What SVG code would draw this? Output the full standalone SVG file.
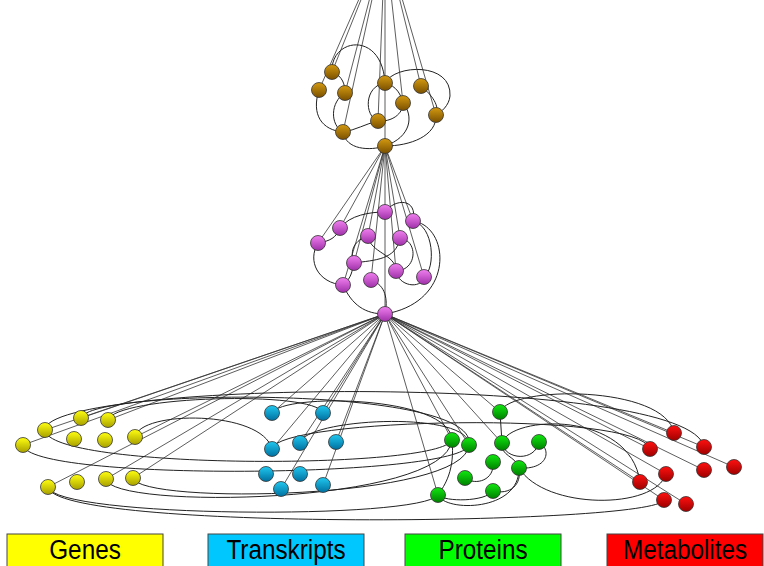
<svg xmlns="http://www.w3.org/2000/svg" width="764" height="566" viewBox="0 0 764 566">
<defs>
<linearGradient id="gGold" x1="0" y1="0" x2="0" y2="1"><stop offset="0" stop-color="#d49a10"/><stop offset="1" stop-color="#7a5000"/></linearGradient>
<linearGradient id="gMag" x1="0" y1="0" x2="0" y2="1"><stop offset="0" stop-color="#f080f0"/><stop offset="1" stop-color="#a030a8"/></linearGradient>
<linearGradient id="gYel" x1="0" y1="0" x2="0" y2="1"><stop offset="0" stop-color="#ffff10"/><stop offset="1" stop-color="#a8a000"/></linearGradient>
<linearGradient id="gBlu" x1="0" y1="0" x2="0" y2="1"><stop offset="0" stop-color="#20c8f0"/><stop offset="1" stop-color="#0070a0"/></linearGradient>
<linearGradient id="gGrn" x1="0" y1="0" x2="0" y2="1"><stop offset="0" stop-color="#10e810"/><stop offset="1" stop-color="#008000"/></linearGradient>
<linearGradient id="gRed" x1="0" y1="0" x2="0" y2="1"><stop offset="0" stop-color="#ff1010"/><stop offset="1" stop-color="#a00000"/></linearGradient>
</defs>
<style>
.e{fill:none;stroke:#222;stroke-width:1}
.h{fill:none;stroke:#333;stroke-width:0.8}
circle{stroke:#333;stroke-width:0.8}
.go{fill:url(#gGold)}.ma{fill:url(#gMag)}.ye{fill:url(#gYel)}.bl{fill:url(#gBlu)}.gr{fill:url(#gGrn)}.re{fill:url(#gRed)}
.lg{stroke:#444;stroke-width:1}
.lt{font-family:"Liberation Sans",Arial,sans-serif;font-size:27px;fill:#000;text-anchor:middle}
</style>
<g id="connectors">
<path class="h" d="M385,-60L332,72M385,-60L319,90M385,-60L345,93M385,-60L385,146M385,-60L403,103M385,-60L421,86M385,-60L436,115M385,-60L378,121M385,-60L343,132"/>
<path class="e" d="M332,72C330,38 382,30 385,83"/>
<path class="e" d="M319,90C311,115 322,130 343,132"/>
<path class="e" d="M345,93C330,102 330,125 343,132"/>
<path class="e" d="M332,72C343,76 345,85 345,93"/>
<path class="e" d="M343,132C346,150 370,151 385,146"/>
<path class="e" d="M343,132C356,130 365,124 378,121"/>
<path class="e" d="M385,83C364,86 364,116 378,121"/>
<path class="e" d="M385,83C397,86 401,95 403,103"/>
<path class="e" d="M378,121C392,122 403,114 403,103"/>
<path class="e" d="M385,83C395,64 452,62 450,96C449,106 441,112 436,115"/>
<path class="e" d="M421,86C432,95 440,106 436,115"/>
<path class="e" d="M436,115C437,136 410,146 385,146"/>
<path class="e" d="M403,103C414,116 411,137 385,146"/>
<path class="h" d="M385,146L385,314M385,146L413,221M385,146L340,228M385,146L318,243M385,146L368,236M385,146L400,238M385,146L354,263M385,146L396,271M385,146L424,277M385,146L343,285M385,146L371,280"/>
<path class="e" d="M340,228C350,215 370,212 385,212"/>
<path class="e" d="M385,212C395,198 418,198 413,221"/>
<path class="e" d="M318,243C330,241 336,238 340,228"/>
<path class="e" d="M318,243C307,261 318,283 343,285"/>
<path class="e" d="M343,285C352,305 365,314 385,314"/>
<path class="e" d="M343,285C352,278 352,270 354,263"/>
<path class="e" d="M354,263C375,260 396,260 400,238"/>
<path class="e" d="M368,236C370,253 396,254 396,271"/>
<path class="e" d="M354,263C349,250 355,240 368,236"/>
<path class="e" d="M396,271C398,286 421,290 424,277"/>
<path class="e" d="M413,221C434,226 436,268 424,277"/>
<path class="e" d="M413,221C450,226 456,302 385,314"/>
<path class="e" d="M400,238C418,240 418,270 396,271"/>
<path class="e" d="M371,280C386,285 388,300 385,314"/>
<path class="h" d="M385,314L23,445M385,314L45,430M385,314L81,418M385,314L108,420M385,314L135,437M385,314L48,487M385,314L106,479M385,314L133,478"/>
<path class="h" d="M385,314L272,413M385,314L323,413M385,314L272,449M385,314L300,443M385,314L336,442M385,314L281,489M385,314L323,485"/>
<path class="h" d="M385,314L500,412M385,314L452,440M385,314L469,445M385,314L502,443M385,314L438,495"/>
<path class="h" d="M385,314L674,433M385,314L704,447M385,314L650,449M385,314L734,467M385,314L704,470M385,314L666,474M385,314L640,482M385,314L664,500M385,314L686,504"/>
<path class="e" d="M45,430C45,380 690,372 704,447"/>
<path class="e" d="M500,412C510,385 665,385 674,433"/>
<path class="e" d="M81,418C90,388 480,385 469,445"/>
<path class="e" d="M108,420C115,396 315,390 323,413"/>
<path class="e" d="M272,413C282,393 450,395 452,440"/>
<path class="e" d="M135,437C140,410 262,410 272,449"/>
<path class="e" d="M272,449C276,418 640,410 650,449"/>
<path class="e" d="M300,443C305,418 470,410 469,445"/>
<path class="e" d="M502,443C510,415 630,410 640,482"/>
<path class="e" d="M45,430C48,470 440,470 452,440"/>
<path class="e" d="M23,445C28,482 460,478 469,445"/>
<path class="e" d="M48,487C55,532 655,525 664,500"/>
<path class="e" d="M48,487C55,518 420,520 438,495"/>
<path class="e" d="M106,479C110,510 445,505 452,440"/>
<path class="e" d="M133,478C140,505 465,500 469,445"/>
<path class="e" d="M519,468C545,510 655,510 666,474"/>
<path class="e" d="M500,412L502,443"/>
<path class="e" d="M452,440C455,470 445,485 438,495"/>
<path class="e" d="M502,443C505,460 535,462 539,442"/>
<path class="e" d="M502,443C500,456 516,456 519,468"/>
<path class="e" d="M493,462C495,480 476,486 465,478"/>
<path class="e" d="M539,442C552,450 548,470 519,468"/>
<path class="e" d="M519,468C522,485 510,495 493,491"/>
<path class="e" d="M438,495C445,502 485,502 493,491"/>
<path class="e" d="M438,495C445,512 520,512 519,468"/>
</g>
<g id="gold-nodes">
<g id="g1"><circle class="go" cx="332" cy="72" r="7.5"/></g>
<g id="g2"><circle class="go" cx="319" cy="90" r="7.5"/></g>
<g id="g3"><circle class="go" cx="345" cy="93" r="7.5"/></g>
<g id="g4"><circle class="go" cx="385" cy="83" r="7.5"/></g>
<g id="g5"><circle class="go" cx="403" cy="103" r="7.5"/></g>
<g id="g6"><circle class="go" cx="421" cy="86" r="7.5"/></g>
<g id="g7"><circle class="go" cx="436" cy="115" r="7.5"/></g>
<g id="g8"><circle class="go" cx="378" cy="121" r="7.5"/></g>
<g id="g9"><circle class="go" cx="343" cy="132" r="7.5"/></g>
<g id="gH"><circle class="go" cx="385" cy="146" r="7.5"/></g>
</g>
<g id="magenta-nodes">
<g id="m1"><circle class="ma" cx="385" cy="212" r="7.5"/></g>
<g id="m2"><circle class="ma" cx="413" cy="221" r="7.5"/></g>
<g id="m3"><circle class="ma" cx="340" cy="228" r="7.5"/></g>
<g id="m4"><circle class="ma" cx="318" cy="243" r="7.5"/></g>
<g id="m5"><circle class="ma" cx="368" cy="236" r="7.5"/></g>
<g id="m6"><circle class="ma" cx="400" cy="238" r="7.5"/></g>
<g id="m7"><circle class="ma" cx="354" cy="263" r="7.5"/></g>
<g id="m8"><circle class="ma" cx="396" cy="271" r="7.5"/></g>
<g id="m9"><circle class="ma" cx="424" cy="277" r="7.5"/></g>
<g id="m10"><circle class="ma" cx="343" cy="285" r="7.5"/></g>
<g id="m11"><circle class="ma" cx="371" cy="280" r="7.5"/></g>
<g id="mH"><circle class="ma" cx="385" cy="314" r="7.5"/></g>
</g>
<g id="gene-nodes">
<g id="y1"><circle class="ye" cx="23" cy="445" r="7.5"/></g>
<g id="y2"><circle class="ye" cx="45" cy="430" r="7.5"/></g>
<g id="y3"><circle class="ye" cx="81" cy="418" r="7.5"/></g>
<g id="y4"><circle class="ye" cx="108" cy="420" r="7.5"/></g>
<g id="y5"><circle class="ye" cx="74" cy="439" r="7.5"/></g>
<g id="y6"><circle class="ye" cx="105" cy="440" r="7.5"/></g>
<g id="y7"><circle class="ye" cx="135" cy="437" r="7.5"/></g>
<g id="y8"><circle class="ye" cx="48" cy="487" r="7.5"/></g>
<g id="y9"><circle class="ye" cx="77" cy="482" r="7.5"/></g>
<g id="y10"><circle class="ye" cx="106" cy="479" r="7.5"/></g>
<g id="y11"><circle class="ye" cx="133" cy="478" r="7.5"/></g>
</g>
<g id="transcript-nodes">
<g id="b1"><circle class="bl" cx="272" cy="413" r="7.5"/></g>
<g id="b2"><circle class="bl" cx="323" cy="413" r="7.5"/></g>
<g id="b3"><circle class="bl" cx="272" cy="449" r="7.5"/></g>
<g id="b4"><circle class="bl" cx="300" cy="443" r="7.5"/></g>
<g id="b5"><circle class="bl" cx="336" cy="442" r="7.5"/></g>
<g id="b6"><circle class="bl" cx="266" cy="474" r="7.5"/></g>
<g id="b7"><circle class="bl" cx="300" cy="474" r="7.5"/></g>
<g id="b8"><circle class="bl" cx="281" cy="489" r="7.5"/></g>
<g id="b9"><circle class="bl" cx="323" cy="485" r="7.5"/></g>
</g>
<g id="protein-nodes">
<g id="p1"><circle class="gr" cx="500" cy="412" r="7.5"/></g>
<g id="p2"><circle class="gr" cx="452" cy="440" r="7.5"/></g>
<g id="p3"><circle class="gr" cx="469" cy="445" r="7.5"/></g>
<g id="p4"><circle class="gr" cx="502" cy="443" r="7.5"/></g>
<g id="p5"><circle class="gr" cx="539" cy="442" r="7.5"/></g>
<g id="p6"><circle class="gr" cx="493" cy="462" r="7.5"/></g>
<g id="p7"><circle class="gr" cx="519" cy="468" r="7.5"/></g>
<g id="p8"><circle class="gr" cx="465" cy="478" r="7.5"/></g>
<g id="p9"><circle class="gr" cx="493" cy="491" r="7.5"/></g>
<g id="p10"><circle class="gr" cx="438" cy="495" r="7.5"/></g>
</g>
<g id="metabolite-nodes">
<g id="r1"><circle class="re" cx="674" cy="433" r="7.5"/></g>
<g id="r2"><circle class="re" cx="704" cy="447" r="7.5"/></g>
<g id="r3"><circle class="re" cx="650" cy="449" r="7.5"/></g>
<g id="r4"><circle class="re" cx="734" cy="467" r="7.5"/></g>
<g id="r5"><circle class="re" cx="704" cy="470" r="7.5"/></g>
<g id="r6"><circle class="re" cx="666" cy="474" r="7.5"/></g>
<g id="r7"><circle class="re" cx="640" cy="482" r="7.5"/></g>
<g id="r8"><circle class="re" cx="664" cy="500" r="7.5"/></g>
<g id="r9"><circle class="re" cx="686" cy="504" r="7.5"/></g>
</g>
<g id="legend-genes"><rect class="lg" x="7" y="534" width="156" height="40" fill="#ffff00"/><text class="lt" transform="translate(85,559) scale(0.9,1)">Genes</text></g>
<g id="legend-transkripts"><rect class="lg" x="208" y="534" width="156" height="40" fill="#00c8ff"/><text class="lt" transform="translate(286,559) scale(0.9,1)">Transkripts</text></g>
<g id="legend-proteins"><rect class="lg" x="405" y="534" width="156" height="40" fill="#00ff00"/><text class="lt" transform="translate(483,559) scale(0.9,1)">Proteins</text></g>
<g id="legend-metabolites"><rect class="lg" x="607" y="534" width="156" height="40" fill="#ff0000"/><text class="lt" transform="translate(685,559) scale(0.9,1)">Metabolites</text></g>
</svg>
